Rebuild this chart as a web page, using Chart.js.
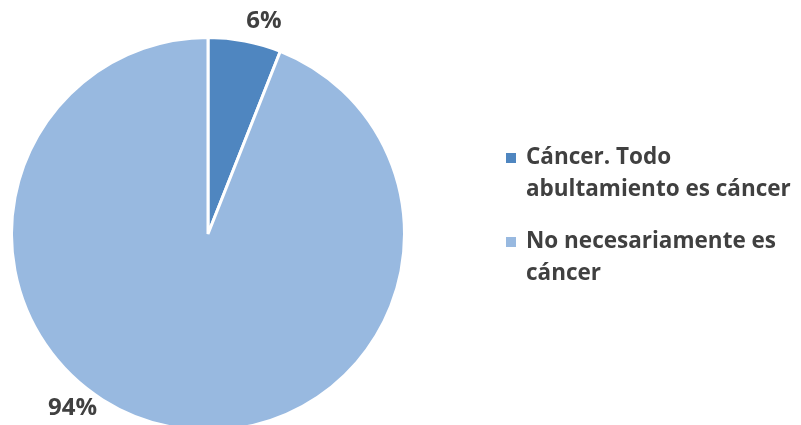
<!DOCTYPE html>
<html>
<head>
<meta charset="utf-8">
<script src="https://cdn.jsdelivr.net/npm/chart.js@4/dist/chart.umd.min.js"></script>
<style>
  html, body { margin: 0; padding: 0; background: #fff; overflow: hidden; }
  #wrap { width: 801px; height: 450px; }
</style>
</head>
<body>
<div id="wrap"><canvas id="pieChart" width="801" height="450"></canvas></div>
<script>
// answers, one line per array entry
const categories = [
    ['Cáncer. Todo', 'abultamiento es cáncer'],
    ['No necesariamente es', 'cáncer']
];
const percentages = [6, 94];
const sliceColors = ['#4F86C0', '#98B9E0'];

const textColor = '#404040';
const fontFamily = '"Open Sans", "Noto Sans", sans-serif';

// percent labels placed around the outside of each slice
const labelSpot = [0.68, 0.58];
const outsideLabels = {
    id: 'outsideLabels',
    afterDatasetsDraw(chart) {
        const ctx = chart.ctx;
        const arcs = chart.getDatasetMeta(0).data;
        const values = chart.data.datasets[0].data;
        const total = values.reduce((a, b) => a + b, 0);
        ctx.save();
        ctx.font = 'bold 24px ' + fontFamily;
        ctx.fillStyle = textColor;
        ctx.textAlign = 'center';
        ctx.textBaseline = 'middle';
        arcs.forEach((arc, i) => {
            const p = arc.getProps(['x', 'y', 'startAngle', 'endAngle', 'outerRadius'], true);
            const a = p.startAngle + labelSpot[i] * (p.endAngle - p.startAngle);
            const r = p.outerRadius + 24;
            const pct = Math.round(values[i] / total * 100) + '%';
            ctx.fillText(pct, p.x + Math.cos(a) * r, p.y + Math.sin(a) * r);
        });
        ctx.restore();
    }
};

// legend on the right, with wrapped labels
const sideLegend = {
    id: 'sideLegend',
    afterDraw(chart) {
        const ctx = chart.ctx;
        const labels = chart.data.labels;
        const colors = chart.data.datasets[0].backgroundColor;
        let y = 158;
        ctx.save();
        ctx.font = 'bold 22.5px ' + fontFamily;
        ctx.textBaseline = 'middle';
        labels.forEach((lines, i) => {
            ctx.fillStyle = colors[i];
            ctx.fillRect(506, y - 5, 10, 10);
            ctx.fillStyle = textColor;
            lines.forEach((line, j) => {
                ctx.fillText(line, 526, y + j * 32);
            });
            y += lines.length * 32 + 20;
        });
        ctx.restore();
    }
};

new Chart(document.getElementById('pieChart'), {
    type: 'pie',
    data: {
        labels: categories,
        datasets: [{
            data: percentages,
            backgroundColor: sliceColors,
            borderColor: '#ffffff',
            borderWidth: 3
        }]
    },
    options: {
        responsive: false,
        animation: false,
        layout: {
            padding: { left: 10, top: 36, right: 395, bottom: 18 }
        },
        plugins: {
            legend: { display: false },
            tooltip: { enabled: false }
        }
    },
    plugins: [outsideLabels, sideLegend]
});
</script>
</body>
</html>
